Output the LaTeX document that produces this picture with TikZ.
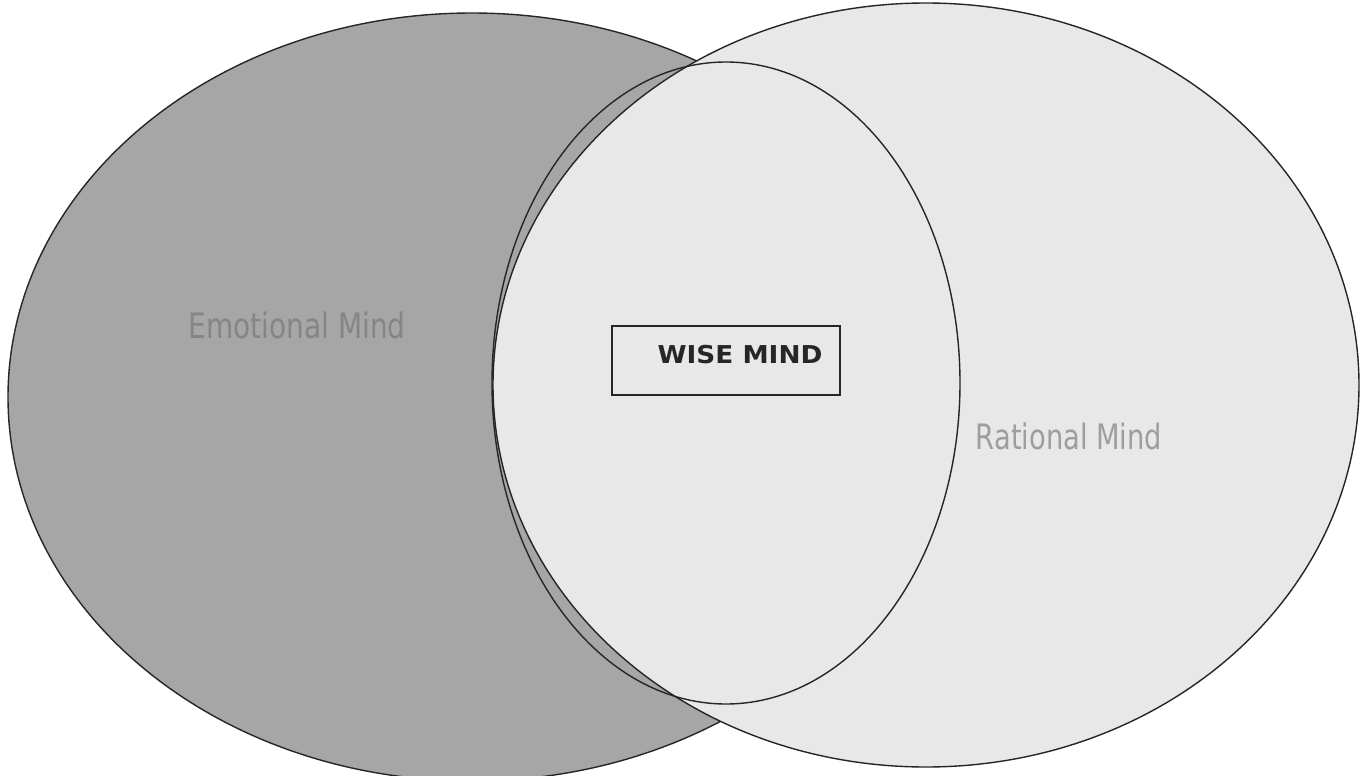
\documentclass[tikz,border=0pt]{standalone}
\usepackage{fontspec}
\setmainfont{DejaVu Sans}
\begin{document}
\begin{tikzpicture}[x=0.5pt,y=-0.5pt,
  ring/.style={draw=black!85,line width=0.7pt},
  mindlabel/.style={inner sep=0pt,anchor=center}]
\useasboundingbox (0,0) rectangle (1361,776);
\clip (0,0) rectangle (1361,776);
\fill[white] (0,0) rectangle (1361,776);
% emotional mind (dark)
\draw[ring,fill=black!35] (472,397) ellipse [x radius=464, y radius=384];
% rational mind (light)
\draw[ring,fill=black!9] (926,385) ellipse [x radius=433, y radius=382];
% wise mind (outline only)
\draw[ring] (726,383) ellipse [x radius=234, y radius=321];
% labels
\node[mindlabel,text=black!48] (emo) at (297,325)
  {\scalebox{0.8}[1]{\fontsize{17.5}{20}\selectfont Emotional Mind}};
\node[mindlabel,text=black!38] (rat) at (1069,436)
  {\scalebox{0.78}[1]{\fontsize{17.5}{20}\selectfont Rational Mind}};
\node[draw=black!85,line width=0.7pt,minimum width=114pt,minimum height=34.5pt,inner sep=0pt] (box) at (726,360.5) {};
\node[mindlabel,text=black!85] (wise) at (740,355)
  {\scalebox{1.07}[1]{\fontsize{12.3}{14}\selectfont\bfseries WISE MIND}};
\end{tikzpicture}
\end{document}
